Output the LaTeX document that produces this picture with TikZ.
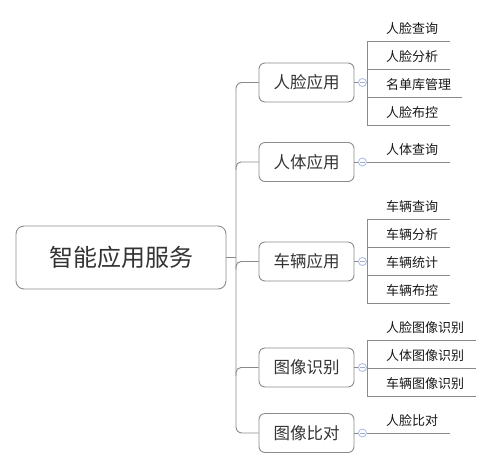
\documentclass[tikz,border=0pt]{standalone}
\usepackage{fontspec}
\newfontfamily\cjk{Noto Sans CJK SC}
\definecolor{linegray}{HTML}{8A8A8A}
\definecolor{boxgray}{HTML}{8C8C8C}
\definecolor{txtgray}{HTML}{333333}
\definecolor{circblue}{HTML}{A9B9E3}
\tikzset{
  conn/.style={draw=linegray, line width=0.9pt},
  rootbox/.style={draw=boxgray, line width=0.9pt, rounded corners=8pt, minimum width=210pt, minimum height=63pt, inner sep=0pt, font=\cjk\fontsize{24}{28}\selectfont, text=txtgray},
  midbox/.style={draw=boxgray, line width=0.9pt, rounded corners=6pt, minimum width=95pt, minimum height=39pt, inner sep=0pt, font=\cjk\fontsize{16.5}{20}\selectfont, text=txtgray},
  circ/.style={circle, draw=circblue, fill=white, line width=0.8pt, minimum size=8pt, inner sep=0pt,
    path picture={\draw[circblue!80!gray, line width=0.8pt] ([xshift=-2.3pt]path picture bounding box.center) -- ([xshift=2.3pt]path picture bounding box.center);}},
  leaf/.style={anchor=south west, inner sep=0pt, minimum height=24pt, text width=#1, align=left, font=\cjk\fontsize{13}{16}\selectfont, text=black!90},
  leaf/.default=83pt
}
\begin{document}
\begin{tikzpicture}[x=1pt,y=-1pt]
\useasboundingbox (0,0) rectangle (492,469);
% root
\node[rootbox] (root) at (121,257.5) {智能应用服务};
% level 1
\node[midbox] (b1) at (306.5,82.5) {人脸应用};
\node[midbox] (b2) at (306.5,162) {人体应用};
\node[midbox] (b3) at (306.5,261.5) {车辆应用};
\node[midbox] (b4) at (306.5,367.5) {图像识别};
\node[midbox] (b5) at (306.5,433) {图像比对};
% trunk
\coordinate (jtop) at (236,82.5);
\coordinate (jbot) at (236,433);
\draw[conn, rounded corners=6pt] (b1.west) -| (jbot) -- (b5.west);
\draw[conn] (root.east) -- (root.east -| jbot);
\foreach \b in {b2,b3,b4}{
  \draw[conn, rounded corners=5pt] ([yshift=-8pt]\b.west -| jbot) -- (\b.west -| jbot) -- (\b.west);
}
% circles
\foreach \i in {1,...,5}{
  \node[circ] (c\i) at ([xshift=8pt]b\i.east) {};
  \draw[conn] (b\i.east) -- (c\i.west);
}
% leaves of b1
\node[leaf] (l11) at (367,41) {\hspace*{19pt}人脸查询};
\node[leaf] (l12) at (367,69) {\hspace*{19pt}人脸分析};
\node[leaf=95pt] (l13) at (367,97) {\hspace*{19pt}名单库管理};
\node[leaf] (l14) at (367,125) {\hspace*{19pt}人脸布控};
% leaf of b2
\node[leaf] (l21) at (367,162) {\hspace*{19pt}人体查询};
% leaves of b3
\node[leaf] (l31) at (367,219) {\hspace*{19pt}车辆查询};
\node[leaf] (l32) at (367,247) {\hspace*{19pt}车辆分析};
\node[leaf] (l33) at (367,275) {\hspace*{19pt}车辆统计};
\node[leaf] (l34) at (367,303) {\hspace*{19pt}车辆布控};
% leaves of b4
\node[leaf=109pt] (l41) at (367,340) {\hspace*{19pt}人脸图像识别};
\node[leaf=109pt] (l42) at (367,368) {\hspace*{19pt}人体图像识别};
\node[leaf=109pt] (l43) at (367,396) {\hspace*{19pt}车辆图像识别};
% leaf of b5
\node[leaf] (l51) at (367,433) {\hspace*{19pt}人脸比对};
% underlines
\foreach \l in {l11,l12,l13,l14,l21,l31,l32,l33,l34,l41,l42,l43,l51}{
  \draw[conn] (\l.south west) -- (\l.south east);
}
% sub-trunks
\draw[conn] (l11.south west) -- (l14.south west);
\draw[conn] (l31.south west) -- (l34.south west);
\draw[conn] (l41.south west) -- (l43.south west);
\draw[conn] (c1.east) -- (c1.east -| l11.south west);
\draw[conn] (c2.east) -- (l21.south west);
\draw[conn] (c3.east) -- (c3.east -| l31.south west);
\draw[conn] (c4.east) -- (c4.east -| l41.south west);
\draw[conn] (c5.east) -- (l51.south west);
\end{tikzpicture}
\end{document}
